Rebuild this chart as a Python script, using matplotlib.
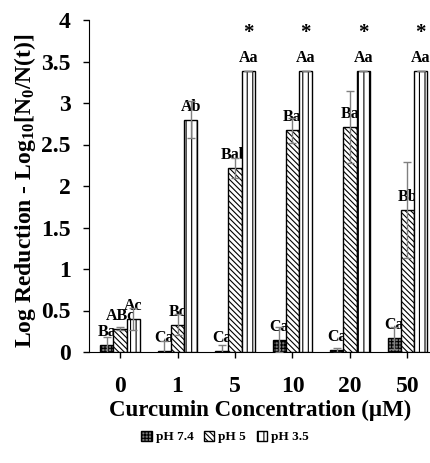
import numpy as np
import matplotlib
matplotlib.use("Agg")
import matplotlib.pyplot as plt

plt.rcParams['font.family'] = ['Liberation Serif', 'DejaVu Serif']
plt.rcParams['font.weight'] = 'bold'
plt.rcParams['hatch.linewidth'] = 0.8
plt.rcParams['mathtext.fontset'] = 'custom'
plt.rcParams['mathtext.rm'] = 'Liberation Serif:bold'
plt.rcParams['mathtext.bf'] = 'Liberation Serif:bold'
plt.rcParams['mathtext.default'] = 'bf'

# datos
concentraciones = ['0', '1', '5', '10', '20', '50']
series = ['pH 7.4', 'pH 5', 'pH 3.5']
ph74 = [0.08, 0.01, 0.01, 0.15, 0.02, 0.17]
ph5 = [0.28, 0.33, 2.22, 2.67, 2.71, 1.71]
ph35 = [0.40, 2.80, 3.39, 3.39, 3.39, 3.39]
err74 = [0.10, 0.12, 0.08, 0.15, 0.03, 0.13]
err5 = [0.02, 0.13, 0.12, 0.15, 0.43, 0.58]
err35 = [0.13, 0.22, 0.0, 0.0, 0.0, 0.0]
letras74 = ['Ba', 'Ca', 'Ca', 'Ca', 'Ca', 'Ca']
letras5 = ['ABc', 'Bc', 'Bab', 'Ba', 'Ba', 'Bb']
letras35 = ['Ac', 'Ab', 'Aa', 'Aa', 'Aa', 'Aa']
asteriscos = ['', '', '*', '*', '*', '*']

fig = plt.figure(figsize=(4.31, 4.63), dpi=100)
ax = fig.add_axes([89 / 431, 1 - 352 / 463, (431 - 89) / 431, (352 - 20) / 463])

x = np.arange(len(concentraciones))
w = 0.23
estilos = [
    dict(color='#7a7a7a', hatch='+++++'),
    dict(color='white', hatch='\\\\\\\\\\\\'),
    dict(color='white', hatch='|||'),
]
valores = [ph74, ph5, ph35]
errores = [err74, err5, err35]
letras = [letras74, letras5, letras35]

for i in range(3):
    pos = x + (i - 1) * w
    ax.bar(pos, valores[i], w, color=estilos[i]['color'], hatch=estilos[i]['hatch'],
           edgecolor='black', linewidth=1.0, label=series[i], zorder=3)
    ax.errorbar(pos, valores[i], yerr=errores[i], fmt='none', ecolor='#808080',
                elinewidth=1.0, capsize=3, capthick=1.0, zorder=4)
    for j in range(len(x)):
        ax.text(pos[j], valores[i][j] + 0.06, letras[i][j], ha='center', va='bottom',
                fontsize=11.5, fontweight='bold', zorder=2)

for j in range(len(x)):
    if asteriscos[j]:
        ax.text(x[j] + w, ph35[j] + 0.33, asteriscos[j], ha='center', va='bottom',
                fontsize=15, fontweight='bold', zorder=2)

ax.set_xlim(-0.54, 5.41)
ax.set_ylim(0, 4)
ax.set_yticks(np.arange(0, 4.01, 0.5))
ax.set_yticklabels(['0', '0.5', '1', '1.5', '2', '2.5', '3', '3.5', '4'])
ax.set_xticks(x)
ax.set_xticklabels(concentraciones)
ax.tick_params(axis='both', labelsize=17, direction='out', length=4, width=1)
ax.tick_params(axis='x', pad=13)
ax.tick_params(axis='y', pad=9)
for lab in ax.get_xticklabels() + ax.get_yticklabels():
    lab.set_fontweight('bold')
ax.spines['top'].set_visible(False)
ax.spines['right'].set_visible(False)

ax.set_ylabel('Log Reduction - Log$_{10}$[N$_{0}$/N(t)]',
              fontsize=17, fontweight='bold')
ax.yaxis.set_label_coords(-0.148, 0.485)
ax.set_xlabel('Curcumin Concentration (\u00b5M)', fontsize=16.5, fontweight='bold', labelpad=2)

fig.legend(loc='center', bbox_to_anchor=(0.522, 1 - 437 / 463), ncol=3, frameon=False,
           prop={'size': 9.5, 'weight': 'bold'}, handlelength=0.8, handleheight=0.8,
           handletextpad=0.3, columnspacing=0.8)

fig.savefig('out.png', dpi=100)
